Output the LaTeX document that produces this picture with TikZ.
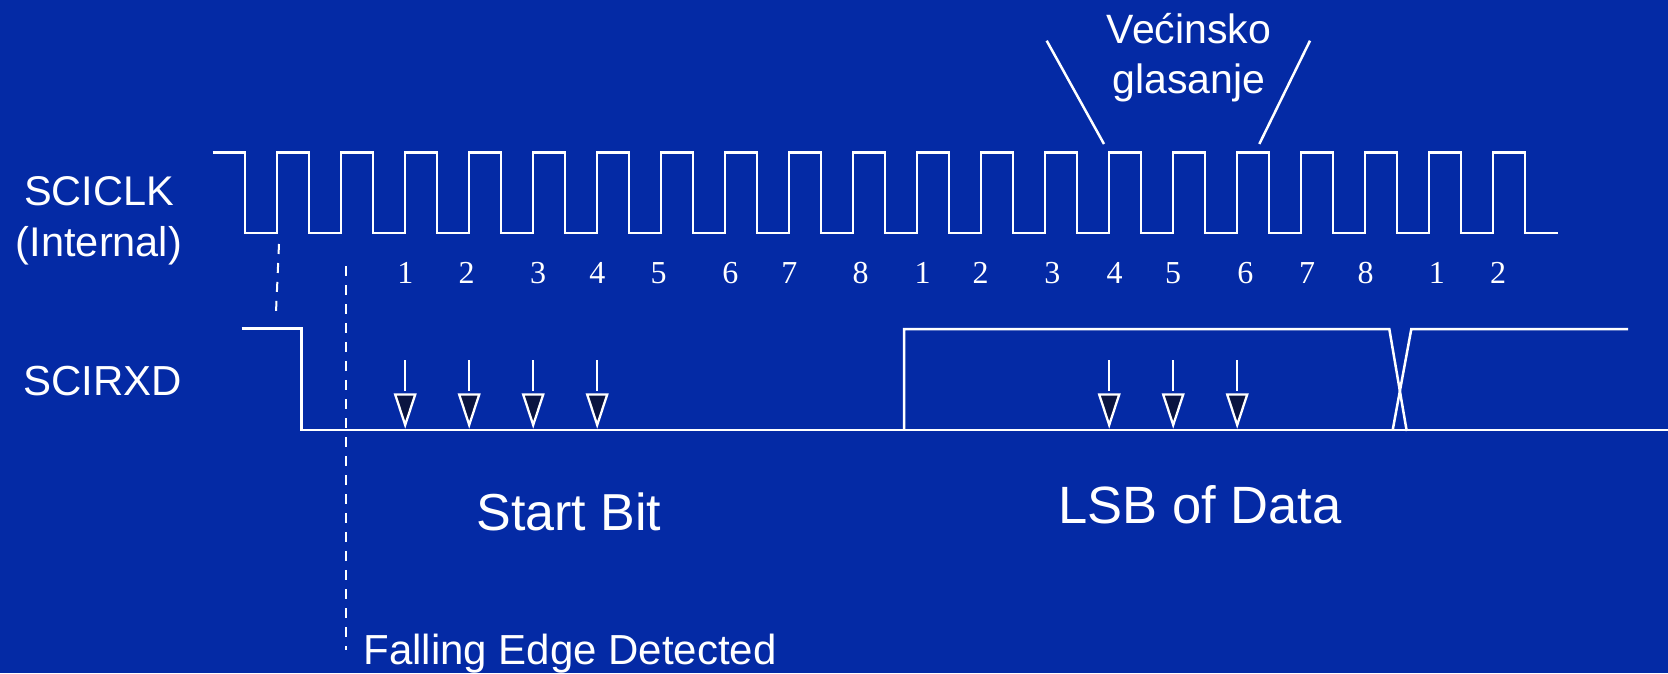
\documentclass[tikz,border=0pt]{standalone}
\usepackage{fontspec}
\setmainfont{Liberation Sans}
\newfontfamily\numfont{Liberation Serif}
\definecolor{bgblue}{RGB}{4,42,165}
\definecolor{tipnavy}{RGB}{10,20,64}
\tikzset{
  wave/.style={draw=white, line width=2.5pt},
  guide/.style={draw=white, line width=2pt, dash pattern=on 10pt off 9pt},
  lbl/.style={text=white, inner sep=0pt, anchor=base},
  numlbl/.style={text=white, inner sep=0pt, anchor=base, font=\numfont\fontsize{32}{36}\selectfont},
  sampletip/.style={draw=white, fill=tipnavy, line width=2.3pt},
  shaft/.style={draw=white, line width=2.5pt}
}
\begin{document}
\begin{tikzpicture}[x=1pt,y=-1pt]
\fill[bgblue] (0,0) rectangle (1668,673);
\useasboundingbox (0,0) rectangle (1668,673);

% labels
\node[lbl, font=\fontsize{41.5}{48}\selectfont] (sciclk) at (99,205) {SCICLK};
\node[lbl, font=\fontsize{41.5}{48}\selectfont] (internal) at (99,256) {(Internal)};
\node[lbl, font=\fontsize{42}{48}\selectfont] (scirxd) at (102.5,395) {SCIRXD};
\node[lbl, font=\fontsize{41}{48}\selectfont] (vec) at (1189,43) {Većinsko};
\node[lbl, font=\fontsize{41}{48}\selectfont] (glas) at (1189,93) {glasanje};
\node[lbl, font=\fontsize{52}{60}\selectfont] (start) at (569,530.7) {Start Bit};
\node[lbl, font=\fontsize{52.5}{60}\selectfont] (lsb) at (1200,523.3) {LSB of Data};
\node[lbl, anchor=base west, font=\fontsize{42}{48}\selectfont] (fed) at (363.3,664) {Falling Edge Detected};

% clock waveform
\draw[wave] (212.5,152.7) -- (245.2,152.7) -- (245.2,233)
  foreach \k in {0,...,19} {
    -- ({277.2+64*\k},233) -- ({277.2+64*\k},152.7)
    -- ({309.2+64*\k},152.7) -- ({309.2+64*\k},233)
  } -- (1558.4,233);

% sample counter numbers
\foreach \xx/\nn [count=\i] in {405.4/1,466.5/2,538/3,597.3/4,658.5/5,730.4/6,789.3/7,860.7/8,
  922.7/1,980.5/2,1052.4/3,1114.7/4,1173/5,1245.4/6,1307.2/7,1365.5/8,1436.8/1,1498.1/2}
  \node[numlbl] (n\i) at (\xx,283.3) {\nn};

% dashed guides
\coordinate (g1a) at (279,244);
\coordinate (g1b) at (275.7,319);
\coordinate (g2a) at (345.5,266);
\coordinate (g2b) at (345.5,650);
\draw[guide] (g1a) -- (g1b);
\draw[guide] (g2a) -- (g2b);

% SCIRXD waveform
\draw[wave] (241.5,328.5) -- (301.7,328.5) -- (301.7,430) -- (1668,430);
\draw[wave] (904,430) -- (904,329) -- (1389.3,329) -- (1406.7,431);
\draw[wave] (1392.7,430) -- (1411.3,329) -- (1628,329);

% sampling arrows
\foreach \k in {2,3,4,5,13,14,15} {
  \coordinate (s\k) at ({277.2+64*\k},360);
  \coordinate (t\k) at ({277.2+64*\k},425);
  \draw[shaft] (s\k) -- ([yshift=-31pt]s\k);
  \draw[sampletip] ([xshift=-10pt,yshift=-34.5pt]s\k) -- ([xshift=10pt,yshift=-34.5pt]s\k) -- (t\k) -- cycle;
}

% majority vote pointers
\coordinate (m1a) at (1046.7,40.7);
\coordinate (m1b) at (1104,144);
\coordinate (m2a) at (1310,40.7);
\coordinate (m2b) at (1259.3,144);
\draw[wave] (m1a) -- (m1b);
\draw[wave] (m2a) -- (m2b);
\end{tikzpicture}
\end{document}
